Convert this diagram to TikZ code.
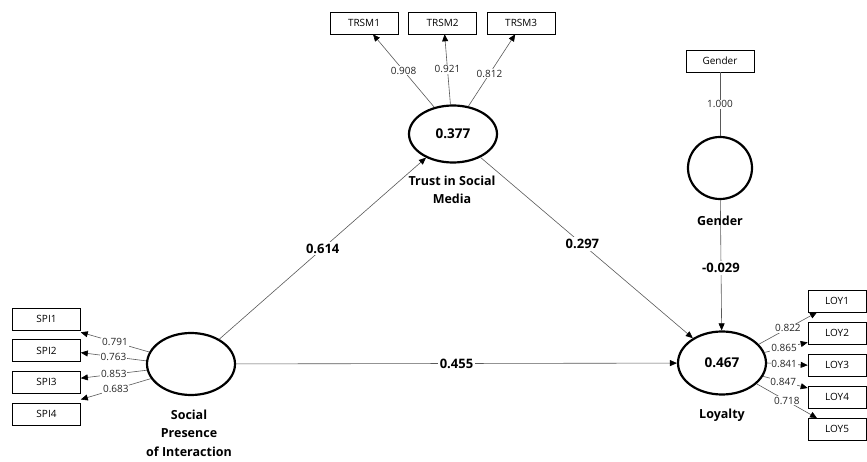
\documentclass[tikz,border=0pt]{standalone}
\usepackage{fontspec}
\setmainfont{Open Sans}
\usetikzlibrary{arrows.meta,positioning,shapes.geometric}

\begin{document}
\begin{tikzpicture}[x=1pt, y=-1pt,
  latent/.style={draw, ellipse, line width=2.2pt, minimum width=88pt,
              minimum height=62pt, inner sep=0pt,
              font=\bfseries\fontsize{13.5}{16}\selectfont},
  indic/.style={draw, line width=0.6pt, minimum width=68pt, minimum height=22pt,
              inner sep=0pt, font=\fontsize{10}{12}\selectfont},
  lname/.style={font=\bfseries\fontsize{12.5}{18.5}\selectfont, align=center},
  load/.style={fill=white, inner sep=0.8pt, text=black!85,
              font=\fontsize{10}{12}\selectfont},
  coef/.style={fill=white, inner sep=2pt, font=\bfseries\fontsize{13}{15}\selectfont},
  arr/.style={-{Triangle[length=7pt,width=6pt,color=black]}, draw=black!65, line width=0.6pt},
  lin/.style={draw=black!65, line width=0.6pt},
]
  \useasboundingbox (0,0) rectangle (867,462);

  \node[latent] (spi) at (191,364) {};
  \node[latent, minimum height=57pt] (trust) at (453,134) {0.377};
  \node[latent, minimum height=63pt] (loy) at (722,363) {0.467};
  \node[latent, minimum width=64pt] (gen) at (720,168) {};

  \node[lname, anchor=north] (spiname) at (189,406) {Social\\Presence\\of Interaction};
  \node[lname, anchor=north] (trustname) at (452,172) {Trust in Social\\Media};
  \node[lname] (loyname) at (722,415) {Loyalty};

  \node[indic] (spi1) at (46.5,319) {SPI1};
  \node[indic, below=9pt of spi1] (spi2) {SPI2};
  \node[indic, below=9pt of spi2] (spi3) {SPI3};
  \node[indic, below=9pt of spi3] (spi4) {SPI4};

  \node[indic] (trsm1) at (364,23) {TRSM1};
  \node[indic, right=10pt of trsm1] (trsm2) {TRSM2};
  \node[indic, right=10pt of trsm2] (trsm3) {TRSM3};

  \node[indic, minimum width=58pt] (loy1) at (837,301) {LOY1};
  \node[indic, minimum width=58pt, below=9.5pt of loy1] (loy2) {LOY2};
  \node[indic, minimum width=58pt, below=9.5pt of loy2] (loy3) {LOY3};
  \node[indic, minimum width=58pt, below=9.5pt of loy3] (loy4) {LOY4};
  \node[indic, minimum width=58pt, below=9.5pt of loy4] (loy5) {LOY5};

  \node[indic] (genbox) at (720,61) {Gender};

  \draw[arr] (spi.164) -- ([yshift=-2pt]spi1.south east) node[load, midway] {0.791};
  \draw[arr] (spi.176) -- ([yshift=-2pt]spi2.east) node[load, midway] {0.763};
  \draw[arr] (spi.188) -- ([yshift=4pt]spi3.east) node[load, midway] {0.853};
  \draw[arr] (spi.200) -- ([yshift=3pt]spi4.north east) node[load, midway] {0.683};

  \draw[arr] (trust.125) -- ([xshift=9pt]trsm1.south) node[load, midway] {0.908};
  \draw[arr] (trust.95) -- ([xshift=2pt]trsm2.south) node[load, midway] {0.921};
  \draw[arr] (trust.61) -- ([xshift=-6pt]trsm3.south) node[load, pos=0.45] {0.812};

  \draw[arr] (loy.27) -- ([xshift=-20pt]loy1.south) node[load, pos=0.5] {0.822};
  \draw[arr] (loy.14) -- ([yshift=2pt]loy2.south west) node[load, pos=0.45] {0.865};
  \draw[arr] (loy.0) -- (loy3.west) node[load, pos=0.42] {0.841};
  \draw[arr] (loy.-18) -- ([yshift=-2pt]loy4.north west) node[load, pos=0.45] {0.847};
  \draw[arr] (loy.-31) -- ([xshift=-20pt]loy5.north) node[load, pos=0.5] {0.718};

  \draw[lin] (genbox) -- (gen) node[load, midway] {1.000};

  \draw[arr] (spi) -- (trust) node[coef, pos=0.5] {0.614};
  \draw[arr] (trust) -- (loy) node[coef, pos=0.48] {0.297};
  \draw[arr] (spi) -- (loy) node[coef, midway] {0.455};
  \draw[arr] (gen) -- (loy) node[coef, pos=0.52] {-0.029};
  \node[lname] (genname) at (720,221) {Gender};
\end{tikzpicture}
\end{document}
